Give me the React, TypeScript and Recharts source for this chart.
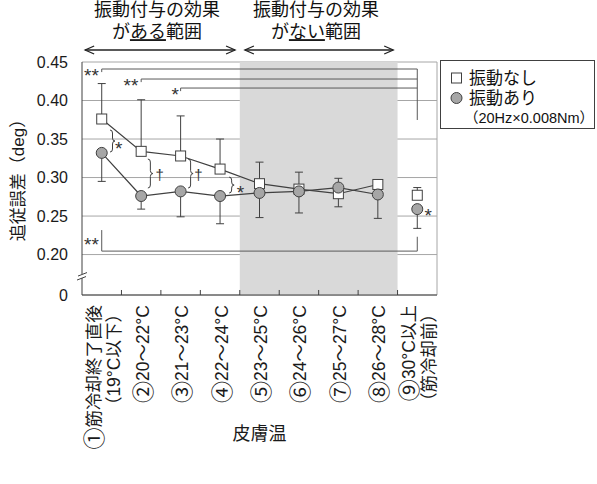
import {
  LineChart, Line, XAxis, YAxis, CartesianGrid, ReferenceArea,
  ReferenceLine, ReferenceDot, ErrorBar,
} from 'recharts'

const CATEGORIES = [
  '①筋冷却終了直後\n（19°C以下）',
  '②20～22°C',
  '③21～23°C',
  '④22～24°C',
  '⑤23～25°C',
  '⑥24～26°C',
  '⑦25～27°C',
  '⑧26～28°C',
  '⑨30°C以上\n（筋冷却前）',
]

// 振動なし (□)
const NO_VIB = [0.376, 0.334, 0.328, 0.311, 0.292, 0.285, 0.279, 0.291, 0.277]
const NO_VIB_ERR_UP = [0.046, 0.067, 0.052, 0.039, 0.028, 0.022, 0, 0.004, 0.010]
const NO_VIB_ERR_DOWN = [0, 0, 0, 0, 0, 0, 0.017, 0, 0]

// 振動あり (○)
const VIB = [0.332, 0.276, 0.282, 0.276, 0.280, 0.282, 0.287, 0.278, 0.259]
const VIB_ERR_UP = [0, 0, 0, 0, 0, 0, 0.012, 0, 0]
const VIB_ERR_DOWN = [0.037, 0.017, 0.033, 0.036, 0.032, 0.028, 0, 0.031, 0.025]

const Y_MIN = 0.1475
const Y_TICKS = [Y_MIN, 0.2, 0.25, 0.3, 0.35, 0.4, 0.45]
const X_TICKS = CATEGORIES.map((_, i) => i + 1)
const BOUNDARIES = [1.5, 2.5, 3.5, 4.5, 5.5, 6.5, 7.5, 8.5]

// ranges shown above the plot
const RANGES = [
  { from: 0.58, to: 4.38, pre: 'が', mark: 'ある', post: '範囲' },
  { from: 4.63, to: 8.39, pre: 'が', mark: 'ない', post: '範囲' },
]

// significance brackets
const TOP_BRACKETS = [
  { from: 1, y: 0.4409, label: '**', lx: 0.74 },
  { from: 2, y: 0.4279, label: '**', lx: 1.74 },
  { from: 3, y: 0.4162, label: '*', lx: 2.86 },
]
const BOTTOM_BRACKET = { from: 1, to: 9, y: 0.2045, leftTop: 0.2318, rightTop: 0.2231, label: '**', lx: 0.74, ly: 0.2188 }
const BRACES = [
  { x: 1.21, top: 0.3617, bottom: 0.3331, label: '*', lx: 1.43, ly: 0.3435 },
  { x: 2.17, top: 0.324, bottom: 0.2864, label: '†', lx: 2.47, ly: 0.3032 },
  { x: 3.19, top: 0.324, bottom: 0.2864, label: '†', lx: 3.45, ly: 0.3032 },
  { x: 4.23, top: 0.3006, bottom: 0.2799, label: '*', lx: 4.52, ly: 0.2864 },
]
const EXTRA_MARKS = [{ x: 9.28, y: 0.2565, label: '*' }]

const rows = X_TICKS.map((x, i) => ({
  x,
  sq: NO_VIB[i],
  sqErr: [NO_VIB_ERR_DOWN[i], NO_VIB_ERR_UP[i]],
  ci: VIB[i],
  ciErr: [VIB_ERR_DOWN[i], VIB_ERR_UP[i]],
}))
const linked = rows.slice(0, 8)
const lone = rows.slice(8)

const FONT = "'Liberation Sans', 'Noto Sans CJK JP', sans-serif"
const INK = '#404040'
const GRID = '#a6a6a6'

const SquareDot = (p: any) => (
  <rect key={`sq-${p.index}-${p.cx}`} x={p.cx - 5} y={p.cy - 5} width={10} height={10} fill="#fff" stroke={INK} strokeWidth={1} />
)
const CircleDot = (p: any) => (
  <circle key={`ci-${p.index}-${p.cx}`} cx={p.cx} cy={p.cy} r={5.5} fill="#a6a6a6" stroke={INK} strokeWidth={1} />
)

const CIRCLED = /^[①-⑨]/

const XTick = ({ x, y, payload }: any) => {
  const lines = CATEGORIES[payload.value - 1].split('\n')
  const offsets = lines.length === 1 ? [1.5] : [-8, 12]
  return (
    <g>
      {lines.map((l, k) => (
        <text
          key={k}
          transform={`translate(${x + offsets[k]},${y}) rotate(-90)`}
          textAnchor="end"
          dominantBaseline="central"
          fontSize={17.5}
          fontFamily={FONT}
          fill="#1a1a1a"
        >
          {CIRCLED.test(l) ? (
            <>
              <tspan fontSize={22}>{l[0]}</tspan>
              <tspan>{l.slice(1)}</tspan>
            </>
          ) : l}
        </text>
      ))}
    </g>
  )
}

const arrowShape = (p: any) => {
  const { x1, x2, y1 } = p
  return (
    <g stroke="#222" strokeWidth={1.3} fill="none">
      <line x1={x1} y1={y1} x2={x2} y2={y1} />
      <polyline points={`${x1 + 9},${y1 - 4} ${x1},${y1} ${x1 + 9},${y1 + 4}`} />
      <polyline points={`${x2 - 9},${y1 - 4} ${x2},${y1} ${x2 - 9},${y1 + 4}`} />
    </g>
  )
}

const braceShape = (p: any) => {
  const { x1, y1, y2 } = p
  const w = 5
  const r = 3
  const ym = (y1 + y2) / 2
  const xm = x1 + w / 2
  const d = `M ${x1} ${y1} Q ${xm} ${y1} ${xm} ${y1 + r} L ${xm} ${ym - r} Q ${xm} ${ym} ${x1 + w} ${ym} ` +
    `Q ${xm} ${ym} ${xm} ${ym + r} L ${xm} ${y2 - r} Q ${xm} ${y2} ${x1} ${y2}`
  return <path d={d} stroke={INK} strokeWidth={1} fill="none" />
}

const markText = (label: string) => (p: any) => {
  const isStar = label.includes('*')
  return (
    <text
      x={p.cx}
      y={p.cy + (isStar ? 11 : 5)}
      textAnchor="middle"
      fontSize={isStar ? 19 : 15}
      fontFamily={FONT}
      fill="#333"
    >
      {label}
    </text>
  )
}

const titleShape = (r: typeof RANGES[number]) => (p: any) => (
  <text x={p.cx} y={p.cy} textAnchor="middle" fontSize={18} fontFamily={FONT} fill="#111">
    <tspan x={p.cx} dy={0}>振動付与の効果</tspan>
    <tspan x={p.cx} dy={22}>{r.pre}</tspan>
    <tspan style={{ textDecoration: 'underline' }}>{r.mark}</tspan>
    <tspan>{r.post}</tspan>
  </text>
)

const breakShape = (p: any) => (
  <g>
    <rect x={p.cx - 4} y={p.cy - 2} width={8} height={4} fill="#fff" />
    <line x1={p.cx - 4} y1={p.cy} x2={p.cx + 5} y2={p.cy - 3.5} stroke={INK} strokeWidth={1} />
    <line x1={p.cx - 5} y1={p.cy + 4} x2={p.cx + 4} y2={p.cy + 0.5} stroke={INK} strokeWidth={1} />
  </g>
)

function Legend() {
  return (
    <svg
      style={{ position: 'absolute', left: 440, top: 60 }}
      width={156}
      height={70}
      fontFamily={FONT}
    >
      <rect x={0.5} y={0.5} width={154} height={68} fill="#fff" stroke={INK} />
      <rect x={11.5} y={13} width={10} height={10} fill="#fff" stroke={INK} />
      <text x={29} y={18} dominantBaseline="central" fontSize={17} fill="#111">振動なし</text>
      <circle cx={16.5} cy={38} r={5.5} fill="#a6a6a6" stroke={INK} />
      <text x={29} y={38} dominantBaseline="central" fontSize={17} fill="#111">振動あり</text>
      <text x={89} y={58} dominantBaseline="central" textAnchor="middle" fontSize={14.5} fill="#111">
        （20Hz×0.008Nm）
      </text>
    </svg>
  )
}

export default function App() {
  return (
    <div style={{ position: 'absolute', left: 0, top: 0, width: 597, height: 484, background: '#fff' }}>
      <LineChart width={597} height={484} margin={{ top: 62, right: 160, bottom: 0, left: 30 }}>
        <ReferenceArea x1={4.5} x2={8.5} y1={Y_MIN} y2={0.45} fill="#d9d9d9" fillOpacity={1} stroke="none" />
        <CartesianGrid vertical={false} stroke={GRID} />
        <ReferenceLine x={9.5} stroke={GRID} />
        <XAxis
          type="number"
          dataKey="x"
          domain={[0.5, 9.5]}
          ticks={X_TICKS}
          interval={0}
          tickLine={false}
          tickSize={0}
          tickMargin={10}
          height={189}
          axisLine={{ stroke: INK }}
          tick={<XTick />}
          label={{ value: '皮膚温', position: 'insideBottom', offset: 44, fontSize: 18, fill: '#1a1a1a', fontFamily: FONT }}
        />
        <YAxis
          type="number"
          domain={[Y_MIN, 0.45]}
          ticks={Y_TICKS}
          interval={0}
          width={52}
          tickLine={false}
          tickSize={0}
          tickMargin={14}
          axisLine={{ stroke: INK }}
          allowDataOverflow
          tick={{ fontSize: 16, fill: '#1a1a1a', fontFamily: FONT }}
          tickFormatter={(v: number) => (v < 0.19 ? '0' : v.toFixed(2))}
          label={{
            content: () => (
              <text transform="translate(18,176) rotate(-90)" textAnchor="middle" dominantBaseline="central" fontSize={17} fontFamily={FONT} fill="#1a1a1a">
                追従誤差（deg）
              </text>
            ),
          }}
        />

        {BOUNDARIES.map((b) => (
          <ReferenceLine key={`b${b}`} segment={[{ x: b, y: Y_MIN }, { x: b, y: Y_MIN + 0.0065 }]} stroke={INK} ifOverflow="visible" />
        ))}
        <ReferenceDot x={0.5} y={0.1721} r={0} ifOverflow="visible" shape={breakShape} />

        {/* range arrows and titles */}
        {RANGES.map((r, i) => (
          <ReferenceLine key={`ra${i}`} segment={[{ x: r.from, y: 0.4656 }, { x: r.to, y: 0.4656 }]} ifOverflow="visible" shape={arrowShape} />
        ))}
        {RANGES.map((r, i) => (
          <ReferenceDot key={`rt${i}`} x={(r.from + r.to) / 2 - 0.08} y={0.5095} r={0} ifOverflow="visible" shape={titleShape(r)} />
        ))}

        {/* significance brackets */}
        {TOP_BRACKETS.map((b, i) => (
          <ReferenceLine key={`tb${i}`} segment={[{ x: b.from, y: b.y }, { x: 9, y: b.y }]} stroke="#595959" ifOverflow="visible" />
        ))}
        {TOP_BRACKETS.map((b, i) => (
          <ReferenceLine key={`tt${i}`} segment={[{ x: b.from, y: b.y }, { x: b.from, y: b.y - 0.004 }]} stroke="#595959" ifOverflow="visible" />
        ))}
        {TOP_BRACKETS.map((b, i) => (
          <ReferenceDot key={`tl${i}`} x={b.lx} y={b.y - 0.002} r={0} ifOverflow="visible" shape={markText(b.label)} />
        ))}
        <ReferenceLine segment={[{ x: 9, y: TOP_BRACKETS[0].y }, { x: 9, y: 0.3747 }]} stroke="#595959" ifOverflow="visible" />

        <ReferenceLine segment={[{ x: BOTTOM_BRACKET.from, y: BOTTOM_BRACKET.y }, { x: BOTTOM_BRACKET.to, y: BOTTOM_BRACKET.y }]} stroke="#595959" ifOverflow="visible" />
        <ReferenceLine segment={[{ x: BOTTOM_BRACKET.from, y: BOTTOM_BRACKET.leftTop }, { x: BOTTOM_BRACKET.from, y: BOTTOM_BRACKET.y }]} stroke="#595959" ifOverflow="visible" />
        <ReferenceLine segment={[{ x: BOTTOM_BRACKET.to, y: BOTTOM_BRACKET.rightTop }, { x: BOTTOM_BRACKET.to, y: BOTTOM_BRACKET.y }]} stroke="#595959" ifOverflow="visible" />
        <ReferenceDot x={BOTTOM_BRACKET.lx} y={BOTTOM_BRACKET.ly} r={0} ifOverflow="visible" shape={markText(BOTTOM_BRACKET.label)} />

        {BRACES.map((b, i) => (
          <ReferenceLine key={`br${i}`} segment={[{ x: b.x, y: b.top }, { x: b.x, y: b.bottom }]} ifOverflow="visible" shape={braceShape} />
        ))}
        {BRACES.map((b, i) => (
          <ReferenceDot key={`bl${i}`} x={b.lx} y={b.ly} r={0} ifOverflow="visible" shape={markText(b.label)} />
        ))}
        {EXTRA_MARKS.map((m, i) => (
          <ReferenceDot key={`em${i}`} x={m.x} y={m.y} r={0} ifOverflow="visible" shape={markText(m.label)} />
        ))}

        {/* 振動なし */}
        <Line data={linked} dataKey="sq" stroke={INK} strokeWidth={1.2} dot={SquareDot} isAnimationActive={false}>
          <ErrorBar dataKey="sqErr" width={4} stroke={INK} strokeWidth={1} direction="y" />
        </Line>
        <Line data={lone} dataKey="sq" stroke="none" dot={SquareDot} isAnimationActive={false}>
          <ErrorBar dataKey="sqErr" width={4} stroke={INK} strokeWidth={1} direction="y" />
        </Line>
        {/* 振動あり */}
        <Line data={linked} dataKey="ci" stroke={INK} strokeWidth={1.2} dot={CircleDot} isAnimationActive={false}>
          <ErrorBar dataKey="ciErr" width={4} stroke={INK} strokeWidth={1} direction="y" />
        </Line>
        <Line data={lone} dataKey="ci" stroke="none" dot={CircleDot} isAnimationActive={false}>
          <ErrorBar dataKey="ciErr" width={4} stroke={INK} strokeWidth={1} direction="y" />
        </Line>
      </LineChart>
      <Legend />
    </div>
  )
}
